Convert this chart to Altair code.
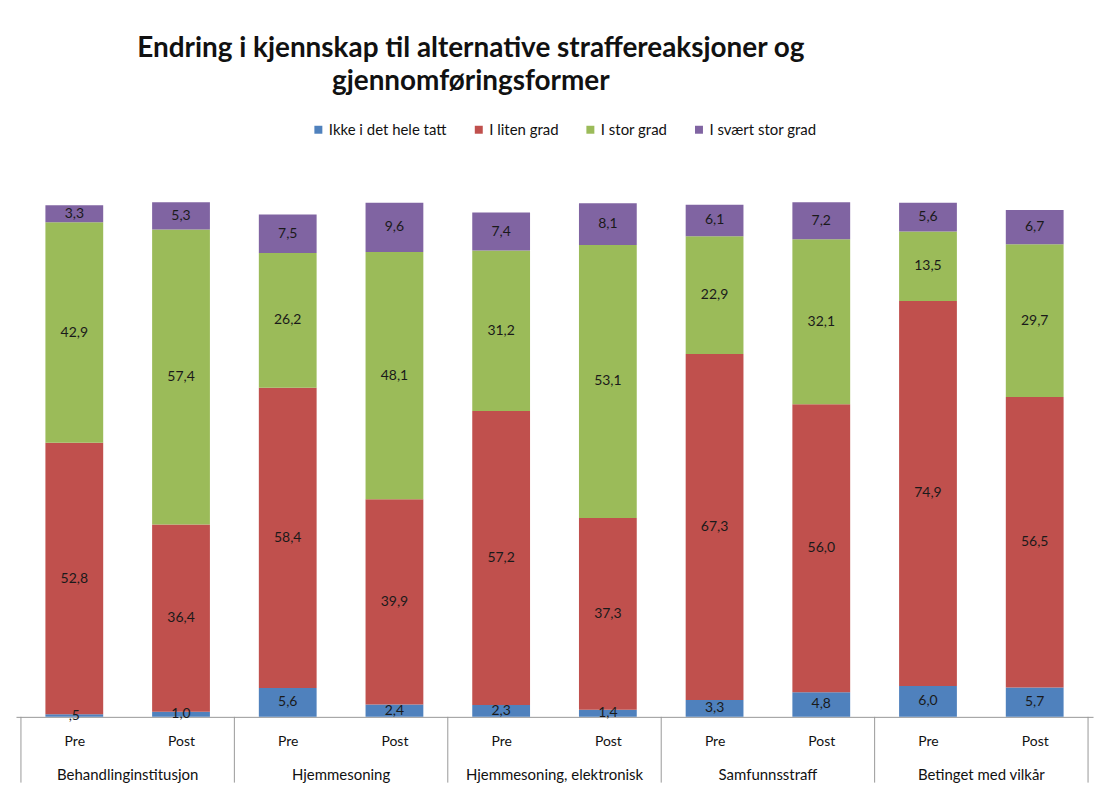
import altair as alt
import pandas as pd

groups = ["Behandlinginstitusjon", "Hjemmesoning", "Hjemmesoning, elektronisk",
          "Samfunnsstraff", "Betinget med vilkår"]
phases = ["Pre", "Post"]
series = ["Ikke i det hele tatt", "I liten grad", "I stor grad", "I svært stor grad"]
colors = ["#4F81BD", "#C0504D", "#9BBB59", "#8064A2"]

ikke = [0.5, 1.0, 5.6, 2.4, 2.3, 1.4, 3.3, 4.8, 6.0, 5.7]
liten = [52.8, 36.4, 58.4, 39.9, 57.2, 37.3, 67.3, 56.0, 74.9, 56.5]
stor = [42.9, 57.4, 26.2, 48.1, 31.2, 53.1, 22.9, 32.1, 13.5, 29.7]
svaert = [3.3, 5.3, 7.5, 9.6, 7.4, 8.1, 6.1, 7.2, 5.6, 6.7]

FONT = "Lato"


def fmt(v):
    s = f"{v:.1f}".replace(".", ",")
    if s.startswith("0,"):
        s = s[1:]
    return s


rows = []
for i in range(len(ikke)):
    base = 0.0
    for s_idx, (name, vals) in enumerate(zip(series, [ikke, liten, stor, svaert])):
        v = vals[i]
        rows.append({
            "pos": i,
            "group": groups[i // 2],
            "phase": phases[i % 2],
            "series": name,
            "order": s_idx,
            "value": v,
            "y0": base,
            "y1": base + v,
            "mid": base + v / 2,
            "label": fmt(v),
        })
        base += v
df = pd.DataFrame(rows)

grp_df = pd.DataFrame({"group": groups, "center": [2 * g + 0.5 for g in range(len(groups))]})
sep_df = pd.DataFrame({"sep": [2 * g - 0.5 for g in range(len(groups) + 1)]})

W = 1081
H = 516

xscale = alt.Scale(domain=[-0.5, len(ikke) - 0.5], nice=False, zero=False)
yscale = alt.Scale(domain=[0, 100], nice=False)

bars = alt.Chart(df).mark_bar(size=58).encode(
    x=alt.X("pos:Q", scale=xscale,
            axis=alt.Axis(title=None, values=list(range(len(ikke))),
                          labelExpr="datum.value % 2 == 0 ? 'Pre' : 'Post'",
                          ticks=False, grid=False, domainColor="#999999",
                          labelFont=FONT, labelFontSize=14, labelColor="#111111",
                          labelPadding=18)),
    y=alt.Y("y0:Q", scale=yscale, axis=None),
    y2="y1:Q",
    color=alt.Color("series:N", sort=series,
                    scale=alt.Scale(domain=series, range=colors),
                    legend=alt.Legend(title=None, orient="none", direction="horizontal",
                                      legendX=296, legendY=-81,
                                      symbolType="square", symbolSize=64,
                                      symbolStrokeWidth=0,
                                      labelFont=FONT, labelFontSize=15,
                                      labelColor="#111111", columnPadding=24,
                                      labelOffset=3)),
    order=alt.Order("order:Q"),
)

labels = alt.Chart(df).mark_text(font=FONT, fontSize=14, color="#1a1a1a").encode(
    x=alt.X("pos:Q", scale=xscale),
    y=alt.Y("mid:Q", scale=yscale),
    text="label:N",
)

grp_text = alt.Chart(grp_df).mark_text(font=FONT, fontSize=15, color="#111111").encode(
    x=alt.X("center:Q", scale=xscale),
    y=alt.value(H + 58),
    text="group:N",
)

seps = alt.Chart(sep_df).mark_rule(color="#999999", strokeWidth=1).encode(
    x=alt.X("sep:Q", scale=xscale),
    y=alt.value(H),
    y2=alt.value(H + 66),
)

chart = alt.layer(bars, labels, grp_text, seps).properties(
    width=W, height=H,
    title=alt.TitleParams(
        text=["Endring i kjennskap til alternative straffereaksjoner og",
              "gjennomføringsformer"],
        font=FONT, fontSize=28, fontWeight="bold", color="#111111",
        anchor="middle", frame="group", dx=-84, offset=26, lineHeight=33),
    padding={"top": 26, "left": 8, "right": 10, "bottom": 10},
).configure_view(stroke=None)

chart.save("out.html", embed_options={"renderer": "svg", "actions": False})
